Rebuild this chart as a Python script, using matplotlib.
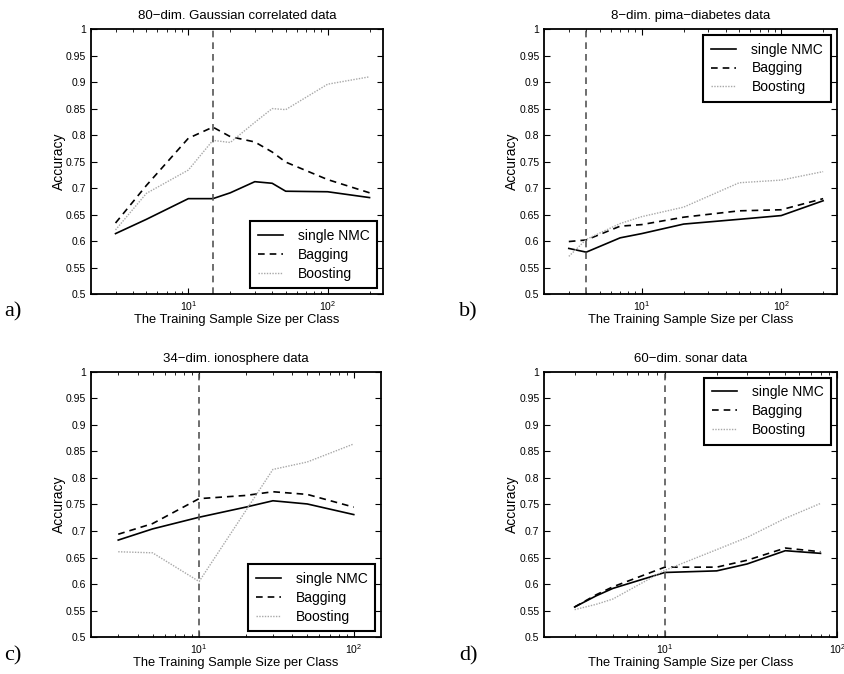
import matplotlib
matplotlib.use("Agg")
import matplotlib.pyplot as plt
from matplotlib.ticker import FixedLocator, LogLocator, NullFormatter

plt.rcParams['font.family'] = ['Liberation Sans', 'DejaVu Sans']

# ---- data ----
titles = ["80\u2212dim. Gaussian correlated data", "8\u2212dim. pima\u2212diabetes data",
          "34\u2212dim. ionosphere data", "60\u2212dim. sonar data"]
panel_tags = ["a)", "b)", "c)", "d)"]
series_names = ["single NMC", "Bagging", "Boosting"]

a_x = [3, 5, 10, 15, 20, 30, 40, 50, 100, 200]
a_nmc = [0.614, 0.641, 0.680, 0.680, 0.691, 0.712, 0.709, 0.694, 0.693, 0.682]
a_bag = [0.634, 0.705, 0.794, 0.815, 0.797, 0.787, 0.768, 0.749, 0.716, 0.691]
a_boost = [0.621, 0.690, 0.734, 0.790, 0.786, 0.824, 0.850, 0.848, 0.896, 0.910]
a_vline = 15
a_xlim = (2, 250)

b_x = [3, 4, 7, 10, 20, 50, 100, 200]
b_nmc = [0.586, 0.579, 0.606, 0.614, 0.632, 0.641, 0.648, 0.676]
b_bag = [0.599, 0.602, 0.628, 0.631, 0.645, 0.657, 0.659, 0.680]
b_boost = [0.571, 0.603, 0.633, 0.646, 0.664, 0.710, 0.715, 0.731]
b_vline = 4
b_xlim = (2, 250)

c_x = [3, 5, 10, 20, 30, 50, 100]
c_nmc = [0.683, 0.704, 0.726, 0.745, 0.757, 0.751, 0.731]
c_bag = [0.694, 0.714, 0.761, 0.767, 0.774, 0.769, 0.745]
c_boost = [0.661, 0.659, 0.605, 0.738, 0.816, 0.830, 0.864]
c_vline = 10
c_xlim = (2, 150)

d_x = [3, 4, 5, 10, 20, 30, 50, 80]
d_nmc = [0.557, 0.578, 0.592, 0.622, 0.625, 0.638, 0.663, 0.658]
d_bag = [0.557, 0.580, 0.595, 0.632, 0.632, 0.645, 0.668, 0.661]
d_boost = [0.552, 0.562, 0.572, 0.626, 0.665, 0.688, 0.724, 0.752]
d_vline = 10
d_xlim = (2, 100)

yticks = [0.5, 0.55, 0.6, 0.65, 0.7, 0.75, 0.8, 0.85, 0.9, 0.95, 1.0]
ytick_labels = ["0.5", "0.55", "0.6", "0.65", "0.7", "0.75", "0.8", "0.85", "0.9", "0.95", "1"]

panels = [
    (a_x, a_nmc, a_bag, a_boost, a_vline, a_xlim, "lower right"),
    (b_x, b_nmc, b_bag, b_boost, b_vline, b_xlim, "upper right"),
    (c_x, c_nmc, c_bag, c_boost, c_vline, c_xlim, "lower right"),
    (d_x, d_nmc, d_bag, d_boost, d_vline, d_xlim, "upper right"),
]

fig = plt.figure(figsize=(8.45, 6.74), dpi=100)
positions = [
    [0.1077, 0.5638, 0.3456, 0.393],
    [0.6441, 0.5638, 0.3460, 0.393],
    [0.1077, 0.0545, 0.3432, 0.394],
    [0.6441, 0.0545, 0.3467, 0.394],
]
tag_pos = [(0.005, 0.530), (0.543, 0.530), (0.005, 0.020), (0.543, 0.020)]

for i, (x, nmc, bag, boost, vl, xlim, lloc) in enumerate(panels):
    ax = fig.add_axes(positions[i])
    ax.plot(x, nmc, color='black', lw=1.2, ls='-', label=series_names[0])
    ax.plot(x, bag, color='black', lw=1.2, ls=(0, (4, 3)), label=series_names[1])
    ax.plot(x, boost, color='#a8a8a8', lw=1.0, ls=(0, (1, 1)), label=series_names[2])
    ax.axvline(vl, color='#555555', lw=1.2, ls=(0, (4, 3)))
    ax.set_xscale('log')
    ax.set_xlim(*xlim)
    ax.set_ylim(0.5, 1.0)
    ax.yaxis.set_major_locator(FixedLocator(yticks))
    ax.set_yticklabels(ytick_labels)
    ax.xaxis.set_major_locator(LogLocator(base=10, numticks=10))
    ax.xaxis.set_minor_locator(LogLocator(base=10, subs=range(2, 10), numticks=10))
    ax.xaxis.set_minor_formatter(NullFormatter())
    ax.tick_params(which='both', direction='in', top=True, right=True, labelsize=7.5)
    ax.tick_params(which='major', length=4, width=0.8)
    ax.tick_params(which='minor', length=2, width=0.6)
    for s in ax.spines.values():
        s.set_linewidth(1.3)
    ax.set_title(titles[i], fontsize=9.5, pad=7)
    ax.set_xlabel("The Training Sample Size per Class", fontsize=9.3, labelpad=1)
    ax.set_ylabel("Accuracy", fontsize=10, labelpad=0)
    leg = ax.legend(loc=lloc, fontsize=10, handlelength=1.8, handletextpad=1.1,
                    fancybox=False, framealpha=1, edgecolor='black',
                    borderaxespad=0.42, borderpad=0.55, labelspacing=0.35)
    leg.get_frame().set_linewidth(1.5)
    fig.text(tag_pos[i][0], tag_pos[i][1], panel_tags[i], fontsize=16,
             family=['Liberation Serif', 'DejaVu Serif'])

fig.savefig("out.png", dpi=100)
